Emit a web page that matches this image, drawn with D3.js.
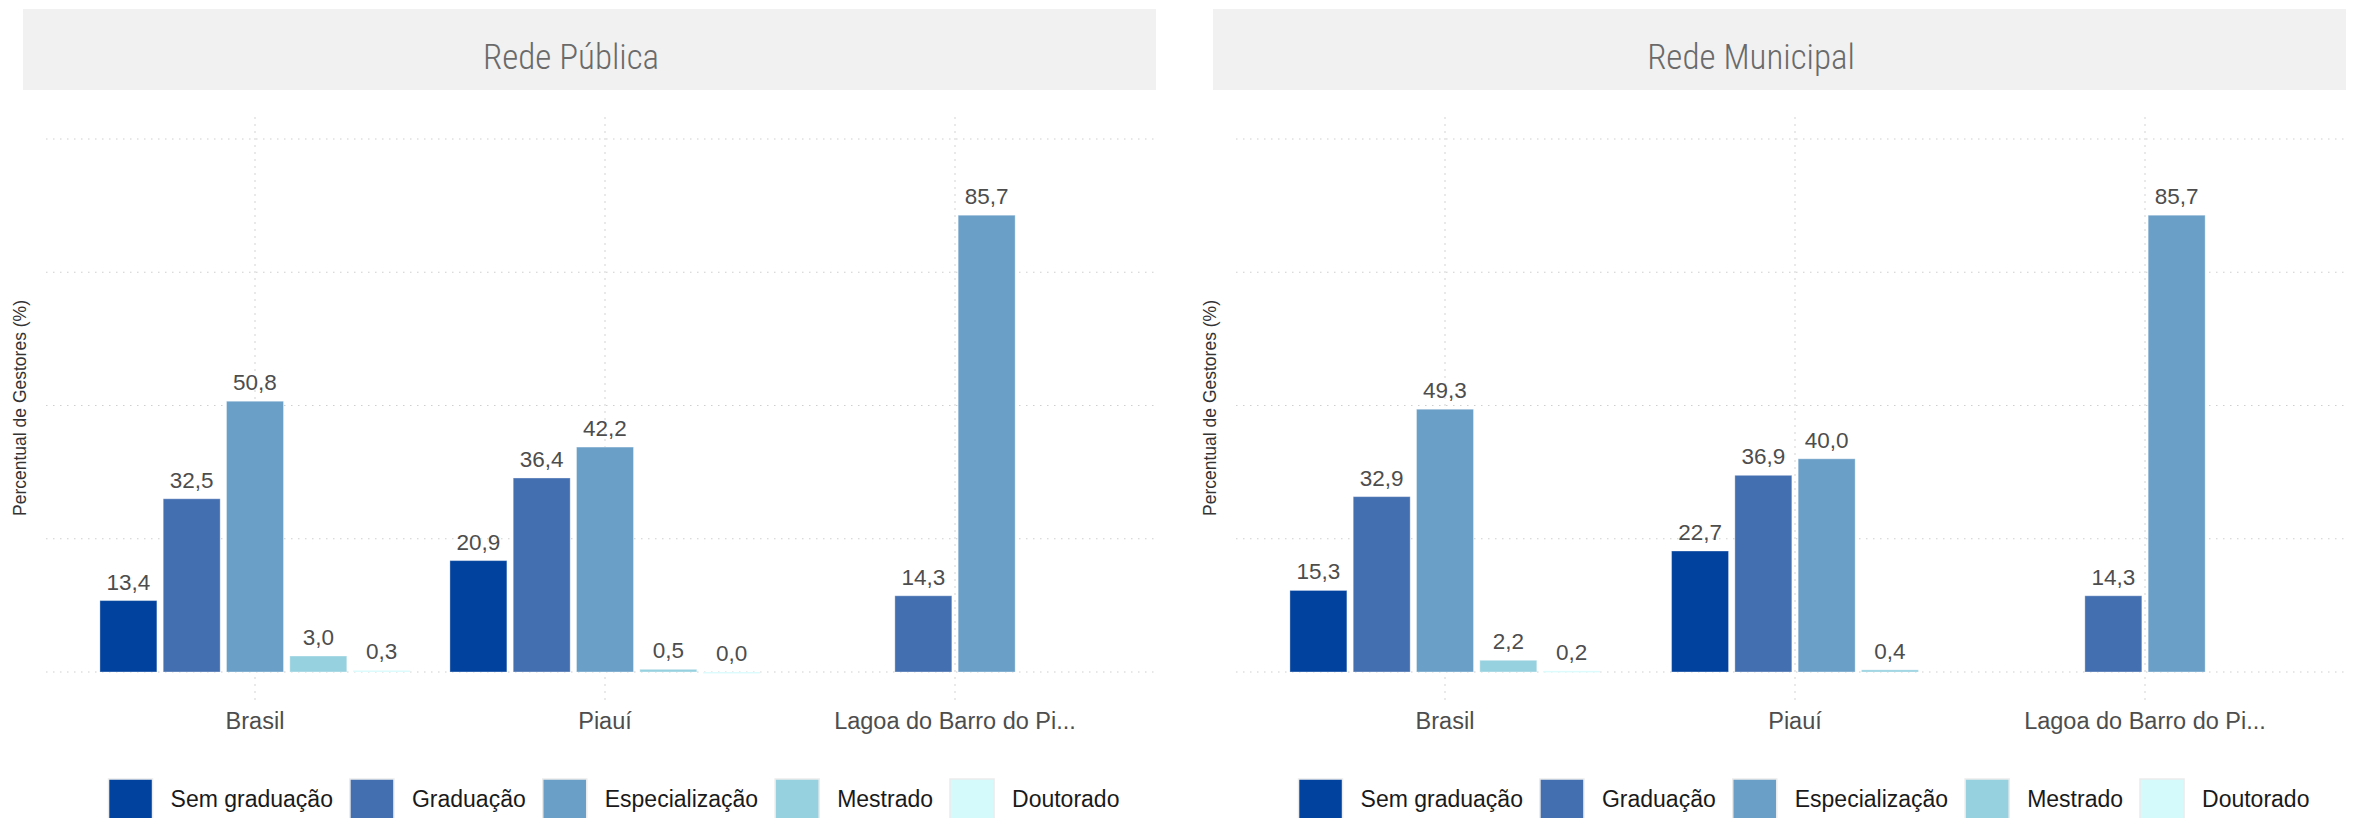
<!DOCTYPE html>
<html>
<head>
<meta charset="utf-8">
<script src="https://cdn.jsdelivr.net/npm/d3@7"></script>
<style>
  body { margin: 0; background: #fff; }
  text { font-family: "Liberation Sans", Helvetica, Arial, sans-serif; }
</style>
</head>
<body>
<script>
// data
const categories = ['Brasil', 'Piauí', 'Lagoa do Barro do Pi...'];
const series = ['Sem graduação', 'Graduação', 'Especialização', 'Mestrado', 'Doutorado'];
const colors = ['#00429d', '#436eb0', '#6a9fc7', '#96d1df', '#d4fafc'];
const panelTitles = ['Rede Pública', 'Rede Municipal'];

// one row per category, one value per series (null = bar not present)
const redePublica = [
  [13.4, 32.5, 50.8, 3.0, 0.3],
  [20.9, 36.4, 42.2, 0.5, 0.0],
  [null, 14.3, 85.7, null, null]
];
const redeMunicipal = [
  [15.3, 32.9, 49.3, 2.2, 0.2],
  [22.7, 36.9, 40.0, 0.4, null],
  [null, 14.3, 85.7, null, null]
];
const yTicks = [0, 25, 50, 75, 100];

const W = 2366, H = 818;
const panelStep = 1190;
const titleX = [571, 561];  // title centre inside each panel

const fmt = d3.formatLocale({decimal: ',', thousands: '.', grouping: [3], currency: ['', '']}).format('.1f');

const svg = d3.select('body').append('svg')
  .attr('width', W)
  .attr('height', H);

const x = d3.scaleBand().domain(categories).range([80, 1130]);
const y = d3.scaleLinear().domain([0, 100]).range([672, 139]);
const slot = 63.3;

const color = d3.scaleOrdinal().domain(series).range(colors);

[redePublica, redeMunicipal].forEach((data, p) => {
  const g = svg.append('g').attr('transform', `translate(${p * panelStep}, 0)`);

  // strip
  g.append('rect')
    .attr('x', 23).attr('y', 9)
    .attr('width', 1133).attr('height', 81)
    .attr('fill', '#f1f1f1');
  g.append('text')
    .attr('x', titleX[p]).attr('y', 69)
    .attr('text-anchor', 'middle')
    .style('font-family', '"Liberation Sans Narrow", "Arial Narrow", "Roboto Condensed", sans-serif')
    .style('font-size', '35px')
    .style('font-weight', 300)
    .attr('fill', '#6a6a6a')
    .text(panelTitles[p]);

  // grid
  g.append('g').selectAll('line.h')
    .data(yTicks)
    .enter().append('line')
    .attr('x1', 46).attr('x2', 1156)
    .attr('y1', d => y(d)).attr('y2', d => y(d))
    .attr('stroke', '#cfcfcf')
    .attr('stroke-width', 1.2)
    .attr('stroke-dasharray', '1.5,5.5');

  g.append('g').selectAll('line.v')
    .data(categories)
    .enter().append('line')
    .attr('x1', d => x(d) + x.bandwidth() / 2)
    .attr('x2', d => x(d) + x.bandwidth() / 2)
    .attr('y1', y(104.1)).attr('y2', y(-5.2))
    .attr('stroke', '#cfcfcf')
    .attr('stroke-width', 1.2)
    .attr('stroke-dasharray', '1.5,5.5');

  // bars, dodged and centred among the present series
  categories.forEach((cat, i) => {
    const present = series.filter((s, j) => data[i][j] !== null);
    const n = present.length;
    const cx = x(cat) + x.bandwidth() / 2;
    const inner = d3.scaleBand()
      .domain(present)
      .range([cx - n * slot / 2, cx + n * slot / 2])
      .paddingInner(0.1)
      .paddingOuter(0.05);

    const rows = present.map(s => ({s, v: data[i][series.indexOf(s)]}));

    g.append('g').selectAll('rect')
      .data(rows)
      .enter().append('rect')
      .attr('x', d => inner(d.s))
      .attr('width', inner.bandwidth())
      .attr('y', d => y(d.v))
      .attr('height', d => Math.max(1.5, y(0) - y(d.v)))
      .attr('fill', d => color(d.s))
      .attr('stroke', '#ffffff')
      .attr('stroke-opacity', 0.35)
      .attr('stroke-width', 1);

    g.append('g').selectAll('text')
      .data(rows)
      .enter().append('text')
      .attr('x', d => inner(d.s) + inner.bandwidth() / 2)
      .attr('y', d => y(d.v) - 11)
      .attr('text-anchor', 'middle')
      .style('font-size', '22.5px')
      .attr('fill', '#4d4d4d')
      .text(d => fmt(d.v));
  });

  // x axis labels
  g.append('g').selectAll('text')
    .data(categories)
    .enter().append('text')
    .attr('x', d => x(d) + x.bandwidth() / 2)
    .attr('y', 729)
    .attr('text-anchor', 'middle')
    .style('font-size', '23.5px')
    .attr('fill', '#4d4d4d')
    .text(d => d);

  // y title
  g.append('text')
    .attr('transform', 'translate(26, 408) rotate(-90)')
    .attr('text-anchor', 'middle')
    .style('font-size', '17.5px')
    .attr('fill', '#333')
    .text('Percentual de Gestores (%)');

  // legend
  const leg = g.append('g');
  const items = leg.selectAll('g')
    .data(series)
    .enter().append('g');
  items.append('rect')
    .attr('width', 44).attr('height', 44)
    .attr('y', 779)
    .attr('fill', d => color(d))
    .attr('stroke', '#ebebeb')
    .attr('stroke-width', 1.5);
  items.append('text')
    .attr('x', 62).attr('y', 807)
    .style('font-size', '23px')
    .attr('fill', '#1a1a1a')
    .text(d => d);

  let off = 0;
  const offsets = [];
  items.each(function() {
    offsets.push(off);
    off += 62 + d3.select(this).select('text').node().getComputedTextLength() + 17;
  });
  const total = off - 17;
  const start = 614 - total / 2;
  items.attr('transform', (d, i) => `translate(${start + offsets[i]}, 0)`);
});
</script>
</body>
</html>
